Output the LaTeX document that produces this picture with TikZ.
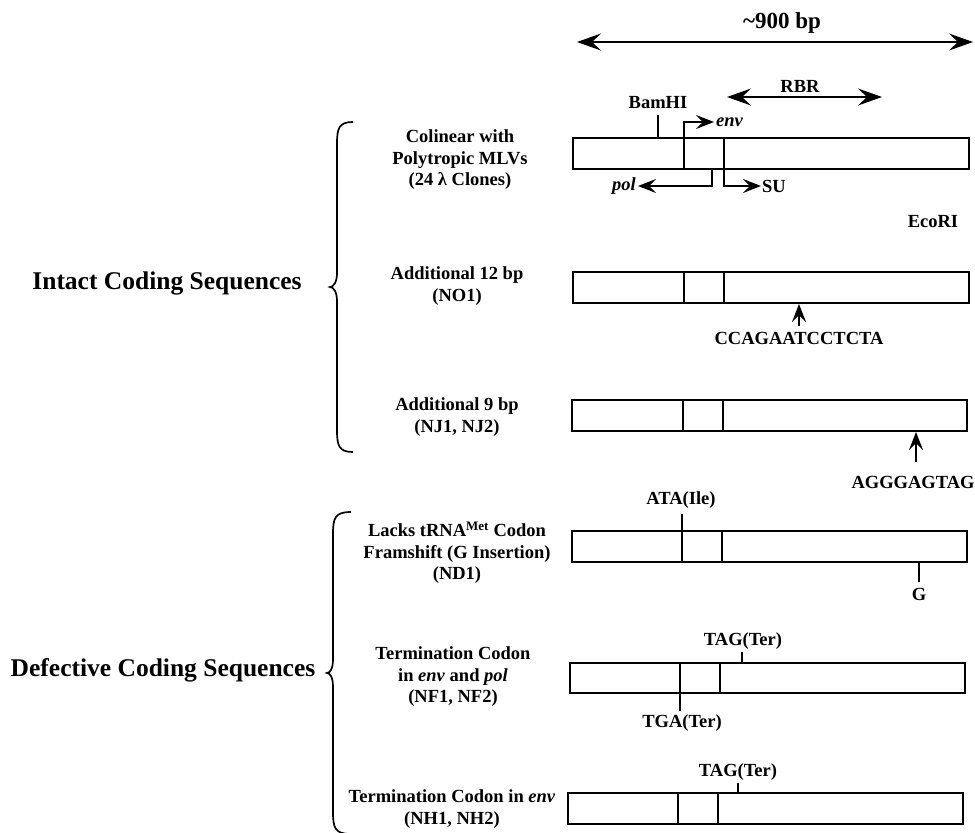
\documentclass[tikz,border=0pt]{standalone}
\usepackage{fontspec}
\setmainfont{Liberation Serif}
\usetikzlibrary{arrows.meta}
\tikzset{
  boxline/.style={line width=1.6pt},
  tickline/.style={line width=1.6pt},
  arr/.style={line width=1.6pt,-{Stealth[length=18pt,width=14pt,inset=7pt]}},
  dblarr/.style={line width=1.8pt,{Stealth[length=24pt,width=17pt,inset=9pt]}-{Stealth[length=24pt,width=17pt,inset=9pt]}},
  lbl/.style={inner sep=0pt,font=\bfseries\fontsize{18.5}{22}\selectfont},
  mlbl/.style={inner sep=0pt,align=center,font=\bfseries\fontsize{18.5}{21.5}\selectfont},
  biglbl/.style={inner sep=0pt,font=\bfseries\fontsize{25.5}{30}\selectfont},
  bracel/.style={line width=1.7pt}
}
\newcommand\gbox[6]{%
  \draw[boxline] (#1,#2) rectangle (#3,#4);
  \draw[boxline] (#5,#2) -- (#5,#4) (#6,#2) -- (#6,#4);}
\newcommand\gbrace[5]{% #1 end x, #2 spine x, #3 tip x, #4 top, #5 bottom
  \draw[bracel] (#1,#4) .. controls (#2+2,#4) and (#2,#4+6) .. (#2,#4+22)
    -- (#2,{(#4+#5)/2-14}) .. controls (#2,{(#4+#5)/2-4}) and (#3+3,{(#4+#5)/2}) .. (#3,{(#4+#5)/2})
    .. controls (#3+3,{(#4+#5)/2}) and (#2,{(#4+#5)/2+4}) .. (#2,{(#4+#5)/2+14})
    -- (#2,#5-22) .. controls (#2,#5-6) and (#2+2,#5) .. (#1,#5);}
\begin{document}
\begin{tikzpicture}[x=1pt,y=-1pt]
\useasboundingbox (0,0) rectangle (975,833);

% scale arrows
\coordinate (s1) at (577,42); \coordinate (s2) at (973,42);
\draw[dblarr] (s1) -- (s2);
\node[biglbl,font=\bfseries\fontsize{23}{28}\selectfont] (bp) at (782,23) {\char`\~900 bp};
\coordinate (r1) at (727,97); \coordinate (r2) at (882,97);
\draw[dblarr,line width=1.5pt] (r1) -- (r2);
\node[lbl] (rbr) at (800,86) {RBR};

% boxes
\gbox{573}{138}{969}{169}{684}{724}
\gbox{573}{272}{969}{303}{684}{724}
\gbox{572}{400}{967}{431}{683}{723}
\gbox{572}{531}{967}{562}{682}{722}
\gbox{570}{663}{965}{693}{680}{720}
\gbox{568}{793}{963}{824}{678}{718}

% box 1 annotations
\node[lbl] (bam) at (658,103) {BamHI};
\draw[tickline] (658,115) -- (658,138);
\draw[arr] (684,169) -- (684,122) -- (714,122);
\node[lbl,anchor=west] (env) at (716,122) {\itshape env};
\draw[arr] (712,169) -- (712,186) -- (638,186);
\node[lbl,anchor=east] (pol) at (636,186) {\itshape pol};
\draw[arr] (724,169) -- (724,186) -- (761,186);
\node[lbl,anchor=west] (su) at (762,186) {SU};
\node[lbl] (eco) at (933,222) {EcoRI};

% box 2
\coordinate (c1) at (799,326); \coordinate (c2) at (799,304);
\draw[arr] (c1) -- (c2);
\node[lbl] (ccag) at (799,338) {CCAGAATCCTCTA};

% box 3
\coordinate (a1) at (916,462); \coordinate (a2) at (916,432);
\draw[arr] (a1) -- (a2);
\node[lbl] (aggg) at (913,482) {AGGGAGTAG};

% box 4
\node[lbl] (ata) at (681,500) {ATA(Ile)};
\draw[tickline] (682,514) -- (682,531);
\draw[tickline] (919,562) -- (919,582);
\node[lbl] (g) at (919,594) {G};

% box 5
\node[lbl] (tag1) at (743,641) {TAG(Ter)};
\draw[tickline] (742,652) -- (742,663);
\draw[tickline] (680,693) -- (680,711);
\node[lbl] (tga) at (682,723) {TGA(Ter)};

% box 6
\node[lbl] (tag2) at (738,772) {TAG(Ter)};
\draw[tickline] (738,783) -- (738,793);

% middle labels
\node[mlbl] (m1) at (460,160) {Colinear with\\Polytropic MLVs\\(24 λ Clones)};
\node[mlbl] (m2) at (457,286) {Additional 12 bp\\(NO1)};
\node[mlbl] (m3) at (457,417) {Additional 9 bp\\(NJ1, NJ2)};
\node[mlbl] (m4) at (457,553) {Lacks tRNA\textsuperscript{Met} Codon\\Framshift (G Insertion)\\(ND1)};
\node[mlbl] (m5) at (453,677) {Termination Codon\\in \textit{env} and \textit{pol}\\(NF1, NF2)};
\node[mlbl] (m6) at (452,809) {Termination Codon in \textit{env}\\(NH1, NH2)};

% braces
\gbrace{353}{337}{330}{122}{452}
\gbrace{351}{333}{327}{512}{834}

% left labels
\node[biglbl] (intact) at (167,283) {Intact Coding Sequences};
\node[biglbl] (defect) at (163,670) {Defective Coding Sequences};
\end{tikzpicture}
\end{document}
